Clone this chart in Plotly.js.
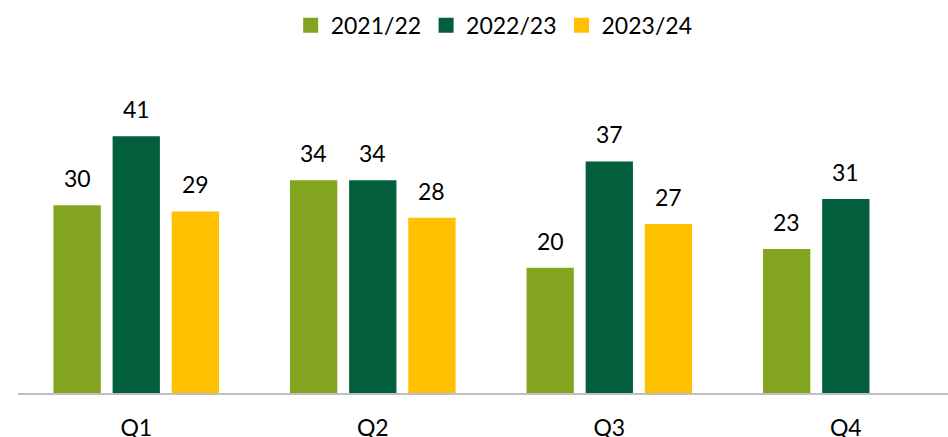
<!DOCTYPE html>
<html>
<head>
<meta charset="utf-8">
<script src="https://cdn.plot.ly/plotly-3.0.1.min.js"></script>
<style>html,body{margin:0;padding:0;background:#fff;}#chart{width:948px;height:437px;}</style>
</head>
<body>
<div id="chart"></div>
<script>
const categories = ["Q1", "Q2", "Q3", "Q4"];
const seriesNames = ["2021/22", "2022/23", "2023/24"];
const values2122 = [30, 34, 20, 23];
const values2223 = [41, 34, 37, 31];
const values2324 = [29, 28, 27, null];
const colors = ["#83A41F", "#035E3C", "#FFC000"];

const allValues = [values2122, values2223, values2324];
const FONT = "Lato, 'Open Sans', sans-serif";

const traces = allValues.map((vals, i) => ({
  type: "bar",
  name: seriesNames[i],
  x: categories,
  y: vals,
  marker: {color: colors[i]},
  showlegend: false,
  hoverinfo: "skip"
}));
// legend proxies with larger square symbols
seriesNames.forEach((n, i) => {
  traces.push({
    type: "scatter", mode: "markers", name: n,
    x: [null], y: [null],
    marker: {symbol: "square", size: 15, color: colors[i]},
    showlegend: true
  });
});

const annotations = [];
const slot = 0.75 / 3;
allValues.forEach((vals, i) => {
  vals.forEach((v, j) => {
    if (v === null || v === undefined) return;
    annotations.push({
      x: j + (i - 1) * slot, y: v, xref: "x", yref: "y",
      text: String(v), showarrow: false, yanchor: "bottom",
      yshift: 11, font: {family: FONT, size: 23, color: "#000"}
    });
  });
});

const layout = {
  width: 948, height: 437,
  margin: {l: 18, r: 0, t: 80, b: 44},
  paper_bgcolor: "#fff", plot_bgcolor: "#fff",
  barmode: "group", bargap: 0.25, bargroupgap: 0.2,
  font: {family: FONT, size: 23, color: "#000"},
  xaxis: {
    type: "category", range: [-0.5, 3.432],
    showline: true, linecolor: "#BFBFBF", linewidth: 1.5,
    showgrid: false, zeroline: false, ticks: "", ticklabelstandoff: 14,
    tickfont: {family: FONT, size: 23, color: "#000"}, fixedrange: true
  },
  yaxis: {
    range: [0, 50], visible: false, showgrid: false, zeroline: false, fixedrange: true
  },
  showlegend: true,
  legend: {
    orientation: "h", x: 0.512, xanchor: "center", y: 1.175, yanchor: "middle",
    font: {family: FONT, size: 23, color: "#000"}, itemwidth: 30, tracegroupgap: 0
  },
  annotations: annotations
};

Plotly.newPlot("chart", traces, layout, {displayModeBar: false, staticPlot: true});
</script>
</body>
</html>
